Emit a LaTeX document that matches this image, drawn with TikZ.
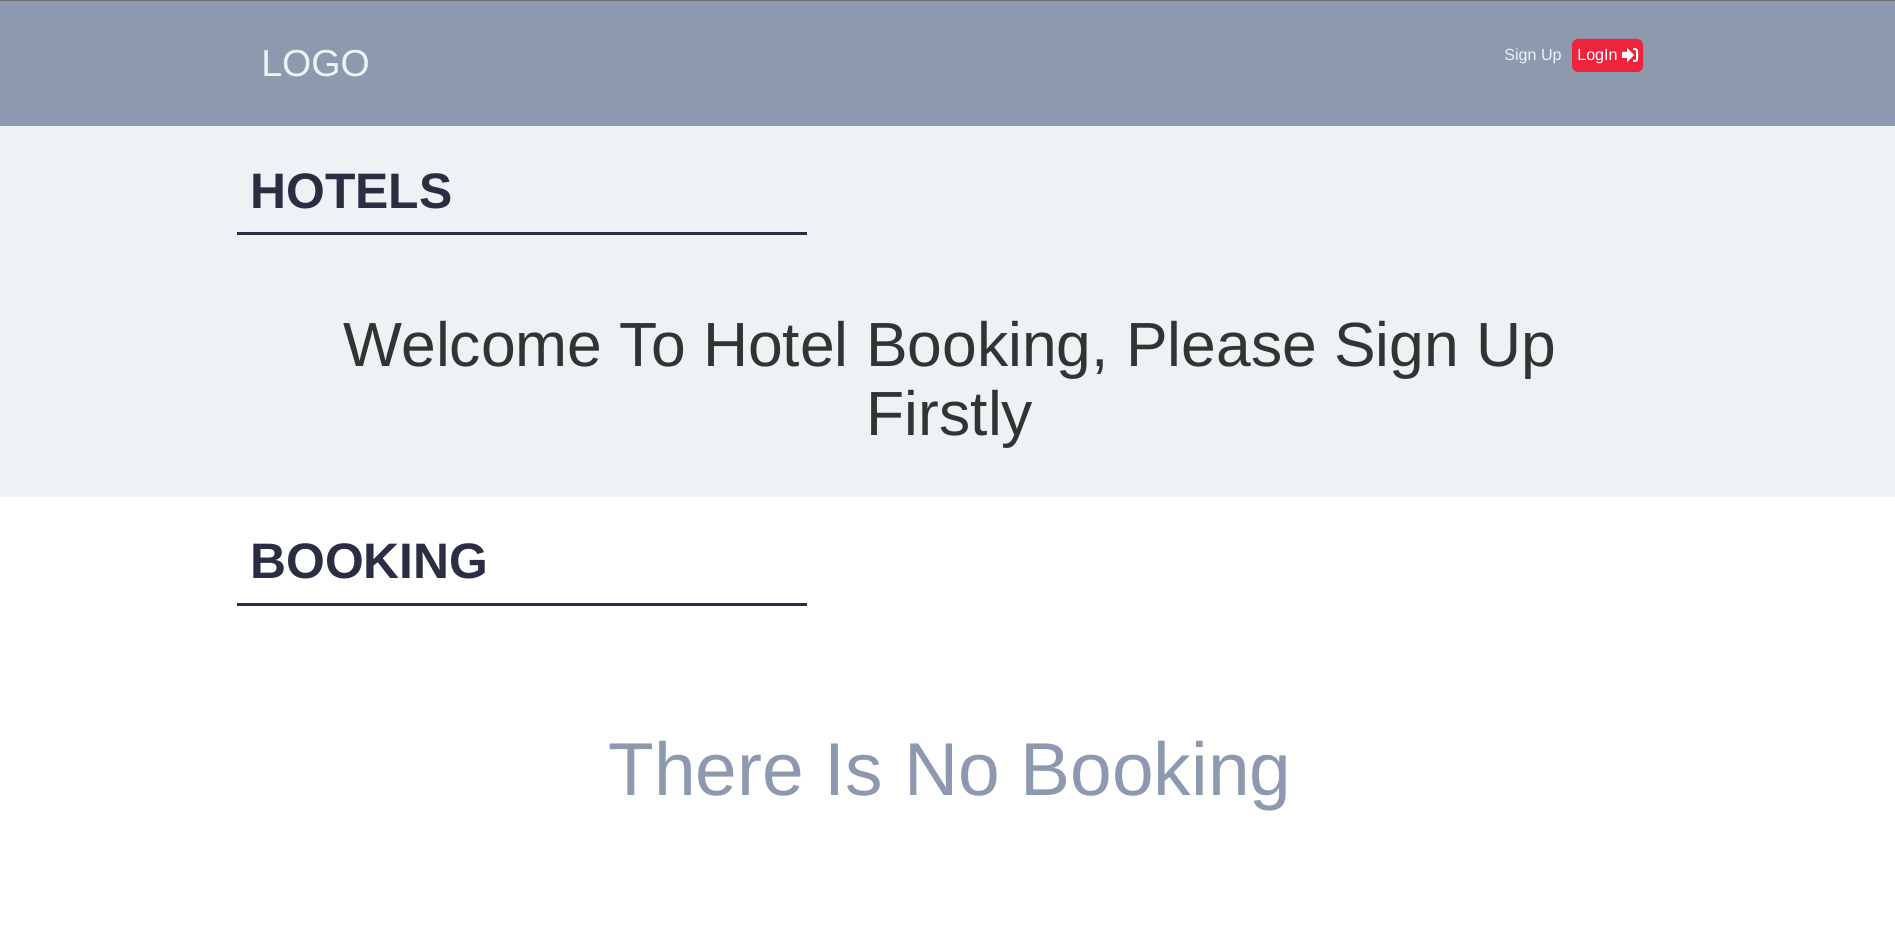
\documentclass[tikz,border=0pt]{standalone}
\usepackage{fontspec}
\setmainfont{Liberation Sans}
\definecolor{headbg}{HTML}{8D99AE}
\definecolor{palebg}{HTML}{EDF2F4}
\definecolor{ink}{HTML}{2B2D42}
\definecolor{redbtn}{HTML}{EF233C}
\definecolor{topline}{HTML}{6B6B6B}
\definecolor{bodytxt}{HTML}{333333}
\tikzset{
  lbl/.style={inner sep=0pt,anchor=base west},
  heading/.style={lbl,text=ink,font=\fontsize{37.4}{37.4}\selectfont\bfseries},
  headrule/.style={ink,line width=2.25pt},
  big/.style={inner sep=0pt,anchor=base,font=\fontsize{46.8}{46.8}\selectfont}
}
\begin{document}
\begin{tikzpicture}[x=0.75pt,y=-0.75pt]
  \useasboundingbox (0,0) rectangle (1895,927);
  \fill[white](0,0) rectangle (1895,927);
  \fill[headbg](0,0) rectangle (1895,126);
  \fill[topline](0,0) rectangle (1895,1);
  \fill[palebg](0,126) rectangle (1895,497);

  %% Header
  \node[lbl,text=palebg,font=\fontsize{28.2}{28.2}\selectfont] (logo) at (261,77) {LOGO};
  \node[lbl,text=palebg,font=\fontsize{12.1}{12.1}\selectfont] (signup) at (1504,61) {Sign Up};
  \fill[redbtn,rounded corners=4.5pt] (1572,39) rectangle (1643,72);
  \node[lbl,text=white,font=\fontsize{12.1}{12.1}\selectfont] (login) at (1577,61) {LogIn};
  %% Icon
  \fill[white] (1622,52) -- (1627,52) -- (1627,48) -- (1634,55) -- (1627,62) -- (1627,58) -- (1622,58) -- cycle;
  \draw[white,line width=1.5pt] (1633,49) -- (1635,49) .. controls (1636.5,49) and (1637,50) .. (1637,51) -- (1637,59) .. controls (1637,60) and (1636.5,61) .. (1635,61) -- (1633,61);

  %% Hotels
  \node[heading] (hotels) at (250,209) {HOTELS};
  \draw[headrule](237,233.5) -- (807,233.5);
  \node[big,text=bodytxt] (welcomea) at (950,366) {Welcome To Hotel Booking, Please Sign Up};
  \node[big,text=bodytxt] (welcomeb) at (950,435) {Firstly};

  %% Booking
  \node[heading] (booking) at (250,578) {BOOKING};
  \draw[headrule](237,604.5) -- (807,604.5);
  \node[big,text=headbg,font=\fontsize{56.2}{56.2}\selectfont] (nobooking) at (950,795.5) {There Is No Booking};
\end{tikzpicture}
\end{document}
